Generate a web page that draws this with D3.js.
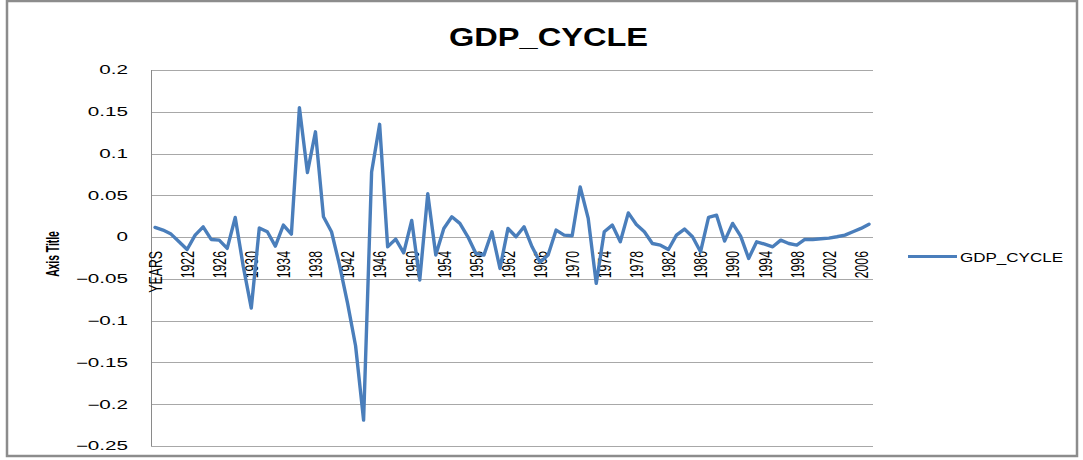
<!DOCTYPE html>
<html>
<head>
<meta charset="utf-8">
<script src="https://cdn.jsdelivr.net/npm/d3@7"></script>
<style>
  body { margin: 0; background: #fff; }
  text { font-family: "Liberation Sans", Arial, sans-serif; }
</style>
</head>
<body>
<svg id="chart" width="1083" height="460"></svg>
<script>
// categories as they appear on the sheet (header cell got picked up as first category)
const categories = ["YEARS",
  1919, 1920, 1921, 1922, 1923, 1924, 1925, 1926, 1927, 1928,
  1929, 1930, 1931, 1932, 1933, 1934, 1935, 1936, 1937, 1938,
  1939, 1940, 1941, 1942, 1943, 1944, 1945, 1946, 1947, 1948,
  1949, 1950, 1951, 1952, 1953, 1954, 1955, 1956, 1957, 1958,
  1959, 1960, 1961, 1962, 1963, 1964, 1965, 1966, 1967, 1968,
  1969, 1970, 1971, 1972, 1973, 1974, 1975, 1976, 1977, 1978,
  1979, 1980, 1981, 1982, 1983, 1984, 1985, 1986, 1987, 1988,
  1989, 1990, 1991, 1992, 1993, 1994, 1995, 1996, 1997, 1998,
  1999, 2000, 2001, 2002, 2003, 2004, 2005, 2006, 2007];

const gdpCycle = [0.0116,
  0.0084, 0.0036, -0.0056, -0.0148, 0.0024, 0.0123, -0.0028, -0.0036, -0.0135, 0.0235,
  -0.035, -0.085, 0.011, 0.0064, -0.0108, 0.0144, 0.0036, 0.155, 0.0774, 0.126,
  0.0243, 0.0064, -0.0335, -0.079, -0.13, -0.219, 0.078, 0.135, -0.0116, -0.0024,
  -0.0188, 0.020, -0.0514, 0.052, -0.0215, 0.0104, 0.0243, 0.0164, 0.0004, -0.0195,
  -0.0215, 0.0064, -0.0375, 0.0104, 0.0004, 0.0124, -0.0116, -0.030, -0.0215, 0.0084,
  0.0024, 0.0016, 0.060, 0.0224, -0.0554, 0.0064, 0.0144, -0.0056, 0.029, 0.0152,
  0.0064, -0.0076, -0.0096, -0.0148, 0.0024, 0.0096, 0.0004, -0.0176, 0.0235, 0.0263,
  -0.0048, 0.0164, 0.0012, -0.0255, -0.0056, -0.0084, -0.0116, -0.0036, -0.0076, -0.0096,
  -0.0028, -0.0028, -0.002, -0.0012, 0.0004, 0.0024, 0.0064, 0.0104, 0.0155];

const yTicks = [0.2, 0.15, 0.1, 0.05, 0, -0.05, -0.1, -0.15, -0.2, -0.25];
const labelEvery = 4;
const seriesName = "GDP_CYCLE";
const chartTitle = "GDP_CYCLE";
const yAxisTitle = "Axis Title";

const svg = d3.select("#chart");
const lineColor = "#4a7ebb";
const gridColor = "#a8a8a8";

// chart frame
svg.append("rect")
  .attr("x", 7).attr("y", 1)
  .attr("width", 1070).attr("height", 455)
  .attr("fill", "none")
  .attr("stroke", "#8c8c8c")
  .attr("stroke-width", 2.5);

const plot = { left: 151, right: 873, top: 70, bottom: 446 };

const x = d3.scaleBand()
  .domain(categories.map(String))
  .range([plot.left, plot.right]);
const cx = d => x(String(d)) + x.bandwidth() / 2;

const y = d3.scaleLinear()
  .domain([-0.25, 0.2])
  .range([plot.bottom, plot.top]);

// horizontal gridlines
svg.append("g")
  .selectAll("line")
  .data(yTicks)
  .join("line")
  .attr("x1", plot.left).attr("x2", plot.right)
  .attr("y1", d => Math.round(y(d)) + 0.5)
  .attr("y2", d => Math.round(y(d)) + 0.5)
  .attr("stroke", gridColor)
  .attr("stroke-width", 1);

// vertical axis line
svg.append("line")
  .attr("x1", plot.left + 0.5).attr("x2", plot.left + 0.5)
  .attr("y1", plot.top).attr("y2", plot.bottom)
  .attr("stroke", "#8a8a8a");

// y tick labels (text looks stretched sideways in the original)
svg.append("g")
  .selectAll("text")
  .data(yTicks)
  .join("text")
  .attr("transform", d => `translate(128,${y(d)}) scale(1.72,1)`)
  .attr("text-anchor", "end")
  .attr("dy", "0.36em")
  .attr("font-size", 12)
  .attr("fill", "#000")
  .text(d => d3.format("")(d));

// category labels, rotated, every 4th
svg.append("g")
  .selectAll("text")
  .data(categories.filter((c, i) => i % labelEvery === 0))
  .join("text")
  .attr("transform", d => `translate(${cx(d) + 0.5},251) scale(1.42,1) rotate(-90)`)
  .attr("text-anchor", "end")
  .attr("dy", "0.36em")
  .attr("font-size", 12.3)
  .attr("fill", "#000")
  .text(d => d);

// axis title
svg.append("text")
  .attr("transform", "translate(52,254) scale(1.55,0.86) rotate(-90)")
  .attr("text-anchor", "middle")
  .attr("dy", "0.36em")
  .attr("font-size", 12)
  .attr("font-weight", "bold")
  .text(yAxisTitle);

// the series
const line = d3.line()
  .x((d, i) => cx(categories[i]))
  .y(d => y(d));

svg.append("path")
  .datum(gdpCycle)
  .attr("d", line)
  .attr("fill", "none")
  .attr("stroke", lineColor)
  .attr("stroke-width", 3.4)
  .attr("stroke-linejoin", "round")
  .attr("stroke-linecap", "round");

// title
svg.append("text")
  .attr("x", 449).attr("y", 46)
  .attr("font-size", 26)
  .attr("font-weight", "bold")
  .attr("textLength", 199)
  .attr("lengthAdjust", "spacingAndGlyphs")
  .text(chartTitle);

// legend
svg.append("line")
  .attr("x1", 908).attr("x2", 957)
  .attr("y1", 256.5).attr("y2", 256.5)
  .attr("stroke", lineColor)
  .attr("stroke-width", 3);

svg.append("text")
  .attr("x", 960).attr("y", 261.5)
  .attr("font-size", 13.5)
  .attr("textLength", 103)
  .attr("lengthAdjust", "spacingAndGlyphs")
  .text(seriesName);
</script>
</body>
</html>
